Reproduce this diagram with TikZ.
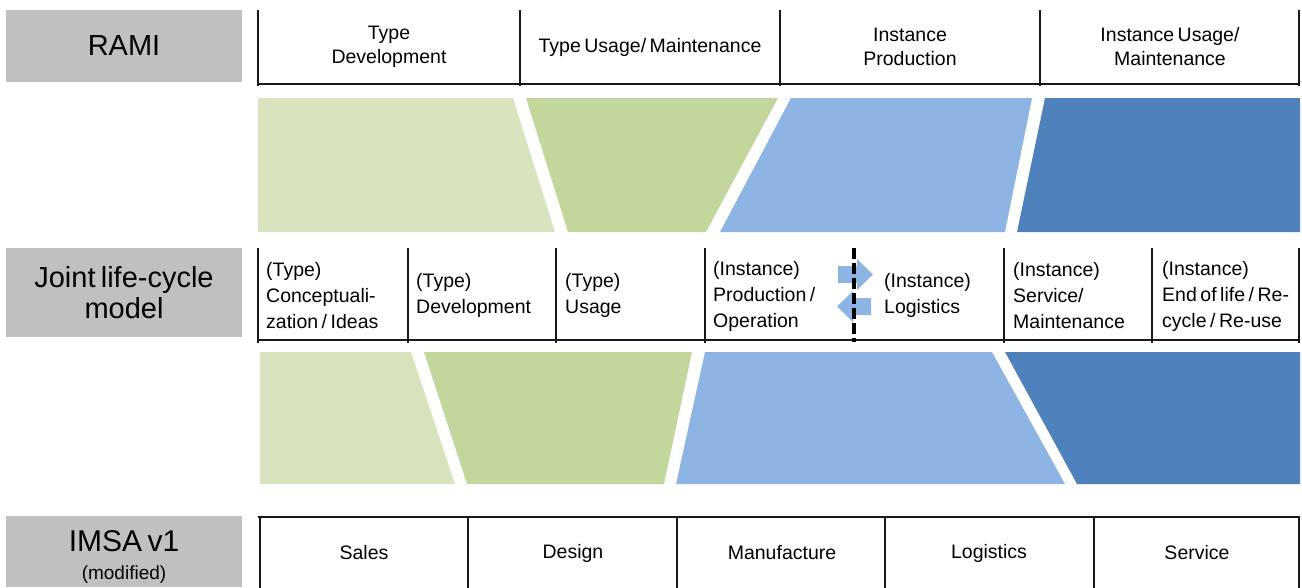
\documentclass[tikz,border=0pt]{standalone}
\usepackage{fontspec}
\setmainfont[WordSpace=0.65]{Liberation Sans}
\definecolor{boxgray}{HTML}{C0C0C0}
\definecolor{lgreen}{HTML}{D7E4BD}
\definecolor{mgreen}{HTML}{C3D69B}
\definecolor{lblue}{HTML}{8EB4E3}
\definecolor{dblue}{HTML}{4F81BD}
\definecolor{arrblue}{HTML}{8EB4E3}
\begin{document}
\begin{tikzpicture}[x=1pt,y=-1pt,
  graybox/.style={fill=boxgray,draw=none,minimum width=236pt,inner sep=0pt,align=center},
  bigtxt/.style={font=\fontsize{29}{31}\selectfont},
  celltxt/.style={font=\fontsize{19.5}{24}\selectfont,align=center,inner sep=0pt},
  jtxt/.style={font=\fontsize{19.5}{26}\selectfont,align=left,anchor=west,inner sep=0pt},
  tline/.style={line width=1.6pt,black!90},
  bandshape/.style={draw=none}]
\useasboundingbox (0,0) rectangle (1302,587);

% ---------- gray label boxes ----------
\node[graybox,bigtxt,minimum height=72pt] (rami) at (124,46) {RAMI};
\node[graybox,bigtxt,minimum height=89pt] (joint) at (124,292.5) {Joint life-cycle\\model};
\node[graybox,minimum height=71pt] (imsa) at (124,551.5) {};
\node[inner sep=0pt,font=\fontsize{30}{32}\selectfont] (imsat) at (124,541) {IMSA v1};
\node[inner sep=0pt,font=\fontsize{19}{21}\selectfont] (imsam) at (124,575) {(modified)};

% ---------- RAMI table ----------
\draw[tline] (258,10) -- (258,86);
\draw[tline] (520,10) -- (520,86);
\draw[tline] (780,10) -- (780,86);
\draw[tline] (1040,10) -- (1040,86);
\draw[tline] (1299,10) -- (1299,86);
\draw[tline] (258,84) -- (1300,84);
\node[celltxt] (r1) at (389,47) {Type\\Development};
\node[celltxt] (r2) at (650,47) {Type Usage/ Maintenance};
\node[celltxt] (r3) at (910,47) {Instance\\Production};
\node[celltxt] (r4) at (1170,47) {Instance Usage/\\Maintenance};

% ---------- upper band ----------
\fill[lgreen] (258,98) -- (513,98) -- (555,232) -- (258,232) -- cycle;
\fill[mgreen] (526,98) -- (778,98) -- (706,232) -- (568,232) -- cycle;
\fill[lblue] (791,98) -- (1032,98) -- (1005,232) -- (720,232) -- cycle;
\fill[dblue] (1045,98) -- (1300,98) -- (1300,232) -- (1017,232) -- cycle;

% ---------- Joint life-cycle table ----------
\draw[tline] (258,248) -- (258,343);
\draw[tline] (408,248) -- (408,343);
\draw[tline] (556,248) -- (556,343);
\draw[tline] (705,248) -- (705,343);
\draw[tline] (1004,248) -- (1004,343);
\draw[tline] (1152,248) -- (1152,343);
\draw[tline] (1299,248) -- (1299,343);
\draw[tline] (258,340) -- (1300,340);

% logistics arrows
\fill[arrblue] (838,266) -- (857,266) -- (857,259) -- (873,274.5) -- (857,290) -- (857,283) -- (838,283) -- cycle;
\fill[arrblue] (871,298) -- (853,298) -- (853,291) -- (837,306.5) -- (853,322) -- (853,315) -- (871,315) -- cycle;
\draw[line width=3.5pt,dash pattern=on 11pt off 4pt] (854,248) -- (854,342);

\node[jtxt] (j1) at (266,296) {(Type)\\Conceptuali-\\zation / Ideas};
\node[jtxt] (j2) at (416,295) {(Type)\\Development};
\node[jtxt] (j3) at (565,295) {(Type)\\Usage};
\node[jtxt] (j4) at (713,296) {(Instance)\\Production /\\Operation};
\node[jtxt] (j5) at (884,295) {(Instance)\\Logistics};
\node[jtxt] (j6) at (1013,296) {(Instance)\\Service/\\Maintenance};
\node[jtxt] (j7) at (1162,296) {(Instance)\\End of life / Re-\\cycle / Re-use};

% ---------- lower band ----------
\fill[lgreen] (260,352) -- (411,352) -- (455,484) -- (260,484) -- cycle;
\fill[mgreen] (424,352) -- (692,352) -- (664,484) -- (467,484) -- cycle;
\fill[lblue] (705,352) -- (992,352) -- (1065,484) -- (676,484) -- cycle;
\fill[dblue] (1005,352) -- (1300,352) -- (1300,484) -- (1077,484) -- cycle;

% ---------- IMSA table ----------
\draw[tline] (258,517) -- (1300,517);
\draw[tline] (260,517) -- (260,590);
\draw[tline] (468,517) -- (468,590);
\draw[tline] (677,517) -- (677,590);
\draw[tline] (885,517) -- (885,590);
\draw[tline] (1094,517) -- (1094,590);
\draw[tline] (1299,517) -- (1299,590);
\node[celltxt] (i1) at (364,553) {Sales};
\node[celltxt] (i2) at (573,553) {Design};
\node[celltxt] (i3) at (782,553) {Manufacture};
\node[celltxt] (i4) at (989,553) {Logistics};
\node[celltxt] (i5) at (1197,553) {Service};
\end{tikzpicture}
\end{document}
